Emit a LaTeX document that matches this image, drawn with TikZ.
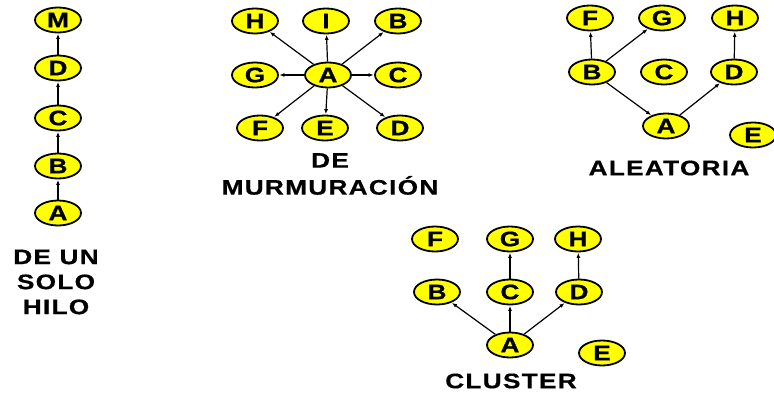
\documentclass[tikz,border=0pt]{standalone}
\usepackage{fontspec}
\setmainfont{Liberation Sans}
\newfontfamily\lblfont[FakeStretch=1.25, LetterSpace=6, FakeBold=0.6]{Liberation Sans}
\newfontfamily\ndfont[FakeStretch=1.25, FakeBold=0.8]{Liberation Sans}
\usetikzlibrary{shapes.geometric,arrows.meta}
\definecolor{nodeyellow}{RGB}{255,255,0}
\tikzset{
  nd/.style={ellipse, draw=black, line width=1.8pt, fill=nodeyellow,
    minimum width=46pt, minimum height=25pt, inner sep=0pt,
    font=\ndfont\bfseries\fontsize{21}{21}\selectfont},
  arr/.style={-{Latex[length=5pt,width=4pt]}, line width=1.2pt, shorten >=0.5pt},
  lbl/.style={font=\lblfont\bfseries\fontsize{21}{25}\selectfont, align=center, inner sep=0pt}
}
\begin{document}
\begin{tikzpicture}[x=1pt,y=-1pt]
\useasboundingbox (0,0) rectangle (774,396);

% single thread chain
\node[nd] (sM) at (58,20) {M};
\node[nd] (sD) at (58,68) {D};
\node[nd] (sC) at (58,118) {C};
\node[nd] (sB) at (58,166) {B};
\node[nd] (sA) at (58,213) {A};
\draw[arr] (sA) -- (sB);
\draw[arr] (sB) -- (sC);
\draw[arr] (sC) -- (sD);
\draw[arr] (sD) -- (sM);
\node[lbl] (sL) at (56,282) {DE UN\\SOLO\\HILO};

% gossip star
\node[nd] (mH) at (255,21) {H};
\node[nd] (mI) at (326,21) {I};
\node[nd] (mB) at (398,21) {B};
\node[nd] (mG) at (255,75) {G};
\node[nd] (mA) at (328,75) {A};
\node[nd] (mC) at (398,75) {C};
\node[nd] (mF) at (260,128) {F};
\node[nd] (mE) at (325,128) {E};
\node[nd] (mD) at (400,128) {D};
\foreach \t in {H,I,B,G,C,F,E,D}
  \draw[arr] (mA) -- (m\t);
\node[lbl, font=\lblfont\bfseries\fontsize{21}{27}\selectfont] (mL) at (330,174) {DE\\MURMURACIÓN};

% random
\node[nd] (aF) at (590,18) {F};
\node[nd] (aG) at (662,18) {G};
\node[nd] (aH) at (735,18) {H};
\node[nd] (aB) at (592,72) {B};
\node[nd] (aC) at (664,72) {C};
\node[nd] (aD) at (734,72) {D};
\node[nd] (aA) at (666,126) {A};
\node[nd] (aE) at (753,135) {E};
\draw[arr] (aB) -- (aF);
\draw[arr] (aB) -- (aG);
\draw[arr] (aB) -- (aA);
\draw[arr] (aA) -- (aD);
\draw[arr] (aD) -- (aH);
\node[lbl] (aL) at (669,168) {ALEATORIA};

% cluster
\node[nd] (cF) at (435,239) {F};
\node[nd] (cG) at (510,239) {G};
\node[nd] (cH) at (578,239) {H};
\node[nd] (cB) at (437,292) {B};
\node[nd] (cC) at (510,292) {C};
\node[nd] (cD) at (579,292) {D};
\node[nd] (cA) at (510,345) {A};
\node[nd] (cE) at (602,353) {E};
\draw[arr] (cA) -- (cB);
\draw[arr] (cA) -- (cC);
\draw[arr] (cA) -- (cD);
\draw[arr] (cC) -- (cG);
\draw[arr] (cD) -- (cH);
\node[lbl] (cL) at (511,381) {CLUSTER};
\end{tikzpicture}
\end{document}
